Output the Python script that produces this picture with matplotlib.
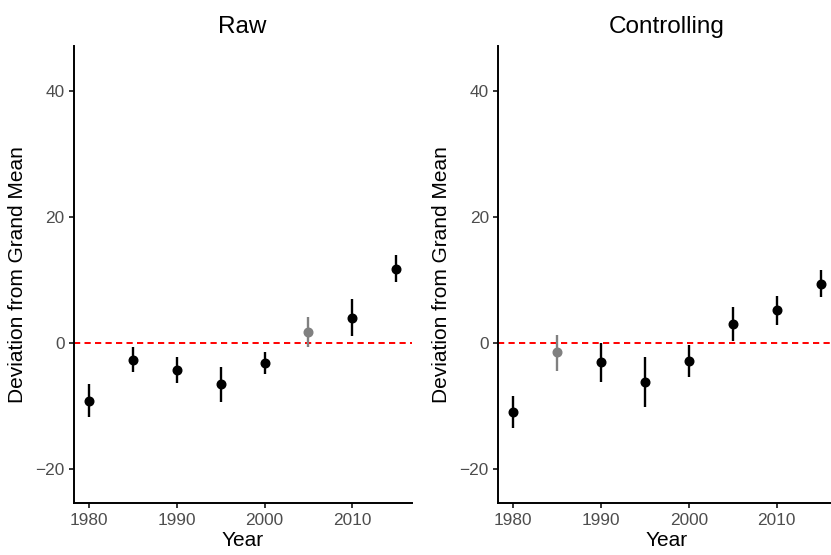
import matplotlib
matplotlib.use("Agg")
import matplotlib.pyplot as plt

plt.rcParams['font.family'] = ['Liberation Sans', 'DejaVu Sans']

years = [1980, 1985, 1990, 1995, 2000, 2005, 2010, 2015]

raw_est = [-9.2, -2.7, -4.3, -6.6, -3.2, 1.7, 4.0, 11.75]
raw_lo = [-11.8, -4.6, -6.3, -9.4, -4.9, -0.7, 1.1, 9.6]
raw_hi = [-6.5, -0.7, -2.3, -3.8, -1.5, 4.1, 6.9, 13.9]
raw_sig = [True, True, True, True, True, False, True, True]

ctrl_est = [-10.9, -1.5, -3.1, -6.2, -2.9, 3.0, 5.2, 9.4]
ctrl_lo = [-13.5, -4.4, -6.2, -10.2, -5.4, 0.3, 2.9, 7.25]
ctrl_hi = [-8.4, 1.3, 0.0, -2.3, -0.4, 5.7, 7.4, 11.6]
ctrl_sig = [True, False, True, True, True, True, True, True]

panels = [("Raw", raw_est, raw_lo, raw_hi, raw_sig),
          ("Controlling", ctrl_est, ctrl_lo, ctrl_hi, ctrl_sig)]

W, H = 831, 555
fig = plt.figure(figsize=(W / 100, H / 100), dpi=100)

# panel positions in pixels (right panel runs off the edge, as in the original)
lefts = [73.6, 497.9]
width = 338.0
top, bottom = 46, 503

for left, (title, est, lo, hi, sig) in zip(lefts, panels):
    ax = fig.add_axes([left / W, 1 - bottom / H, width / W, (bottom - top) / H])
    ax.axhline(0, color='#FF0000', linestyle=(0, (3.2, 2.2)), linewidth=1.4, zorder=1)
    for x, e, l, h, s in zip(years, est, lo, hi, sig):
        c = 'black' if s else '#808080'
        ax.plot([x, x], [l, h], color=c, linewidth=1.7, solid_capstyle='butt', zorder=2)
        ax.plot(x, e, 'o', color=c, markersize=6.2, zorder=3)
    ax.set_xlim(1978.25, 2016.75)
    ax.set_ylim(-25.4, 47.1)
    ax.set_xticks([1980, 1990, 2000, 2010])
    ax.set_yticks([-20, 0, 20, 40])
    ax.set_yticklabels(['\u221220', '0', '20', '40'])
    for side in ['top', 'right']:
        ax.spines[side].set_visible(False)
    for side in ['left', 'bottom']:
        ax.spines[side].set_linewidth(1.4)
    ax.tick_params(length=3.5, width=1.1, labelsize=12.4, labelcolor='#4D4D4D')
    ax.tick_params(axis='x', pad=4)
    ax.tick_params(axis='y', pad=3)
    ax.set_title(title, fontsize=17.5, pad=9)
    ax.set_xlabel('Year', fontsize=15, labelpad=2)
    ax.set_ylabel('Deviation from Grand Mean', fontsize=15, labelpad=6)

fig.savefig('out.png', dpi=100)
